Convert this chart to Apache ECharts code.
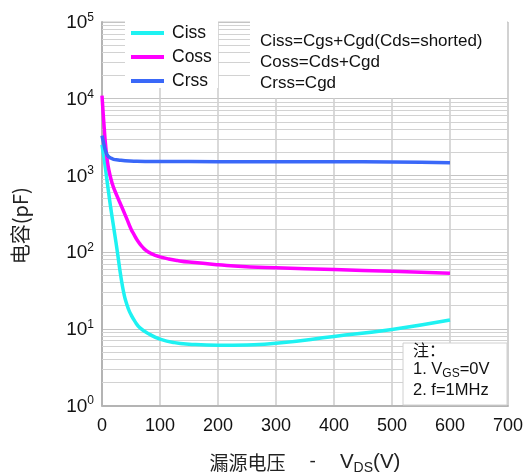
<!DOCTYPE html>
<html><head><meta charset="utf-8">
<script src="https://cdn.jsdelivr.net/npm/echarts@6/dist/echarts.min.js"></script>
<style>html,body{margin:0;padding:0;background:#fff}#c{width:525px;height:475px}</style>
</head><body><div id="c"></div>
<script>
// Ciss (cyan)
const cissV = [0, 2, 4, 8, 11.4, 15, 20, 24, 27, 31.5, 35, 38, 41, 45, 49, 57, 66, 83, 100, 125, 150, 200, 250, 300, 400, 500, 600];
const cissC = [2512, 1995, 1585, 933, 596, 380, 214, 135, 94.4, 53.7, 36.9, 28.3, 23.0, 18.6, 15.8, 12.4, 10.2, 8.4, 7.35, 6.6, 6.3, 6.1, 6.17, 6.46, 7.94, 9.8, 13.0];
// Coss (magenta)
const cossV = [0, 2, 4, 6, 9, 12, 16, 20, 23, 30, 36, 43, 50, 55, 60, 65, 70, 77, 85, 92, 100, 115, 130, 150, 200, 256, 300, 400, 500, 600];
const cossC = [10965, 6457, 3981, 2570, 1585, 1161, 865, 693, 608, 457, 359, 269, 200, 170, 146, 129, 116, 103.5, 95.5, 90.6, 86.5, 81.3, 77.6, 74.1, 68.4, 63.8, 62.4, 59.2, 56.2, 53];
// Crss (blue)
const crssV = [0, 3, 6, 10, 14, 20, 28, 40, 60, 100, 200, 300, 400, 500, 600];
const crssC = [3300, 2600, 2100, 1800, 1700, 1620, 1590, 1550, 1530, 1520, 1510, 1510, 1510, 1500, 1460];

const seriesNames = ['Ciss', 'Coss', 'Crss'];
const seriesColors = ['#1EF2F2', '#FF00FF', '#3A68F8'];
const formulaLines = ['Ciss=Cgs+Cgd(Cds=shorted)', 'Coss=Cds+Cgd', 'Crss=Cgd'];

const zip = (a, b) => a.map((v, i) => [v, b[i]]);
const minorVals = [];
for (let d = 0; d < 5; d++) for (let k = 2; k <= 9; k++) minorVals.push(k * Math.pow(10, d));

const chart = echarts.init(document.getElementById('c'), null, {renderer: 'canvas'});
const font = '"Liberation Sans", Arial, sans-serif';
const cjk = '"Noto Sans CJK SC", sans-serif';

const mkSeries = (i, v, c) => ({
  name: seriesNames[i], type: 'line', data: zip(v, c), smooth: 0.5,
  showSymbol: false, symbol: 'none', z: 2,
  lineStyle: {color: seriesColors[i], width: 3.5}, itemStyle: {color: seriesColors[i]}
});

const s0 = mkSeries(0, cissV, cissC);
s0.markLine = {
  silent: true, symbol: ['none', 'none'], z: 1, animation: false,
  label: {show: false},
  lineStyle: {color: '#d2d2d2', type: 'solid', width: 1},
  data: minorVals.map(v => ({yAxis: v}))
};

chart.setOption({
  animation: false,
  backgroundColor: '#fff',
  grid: {left: 102, right: 17, top: 22, bottom: 69.5, show: true, borderColor: '#c8c8c8', borderWidth: 1,
         containLabel: false, outerBoundsMode: 'none'},
  xAxis: {
    type: 'value', min: 0, max: 700, interval: 100,
    name: '{m|漏源电压}{g|-}{v|V}{s|DS}{v|(V)}', nameLocation: 'middle', nameGap: 46,
    nameTextStyle: {rich: {
      m: {fontFamily: cjk, fontSize: 19, color: '#222', verticalAlign: 'bottom', padding: [0, 0, 3, 0]},
      g: {fontFamily: font, fontSize: 19, color: '#222', verticalAlign: 'bottom', padding: [0, 24, 4, 24]},
      v: {fontFamily: font, fontSize: 20.5, color: '#222', verticalAlign: 'bottom', padding: [0, 0, 3, 0]},
      s: {fontFamily: font, fontSize: 14, color: '#222', verticalAlign: 'bottom'}
    }},
    axisLine: {show: true, lineStyle: {color: '#b4b4b4', width: 2}},
    axisTick: {show: false},
    axisLabel: {fontFamily: font, fontSize: 18, color: '#111', margin: 12},
    splitLine: {show: true, lineStyle: {color: '#cccccc', width: 1.5}}
  },
  yAxis: {
    type: 'log', logBase: 10, min: 1, max: 100000,
    name: '电容(pF)', nameLocation: 'middle', nameGap: 72,
    nameTextStyle: {fontFamily: cjk, fontSize: 20, color: '#222', padding: [0, 24, 0, 0]},
    axisLine: {show: true, lineStyle: {color: '#b4b4b4', width: 2}},
    axisTick: {show: false},
    axisLabel: {
      margin: 8,
      formatter: v => '{a|10}{b|' + Math.round(Math.log10(v)) + '}',
      rich: {
        a: {fontFamily: font, fontSize: 19, color: '#111', verticalAlign: 'bottom'},
        b: {fontFamily: font, fontSize: 12, color: '#111', verticalAlign: 'bottom', padding: [0, 0, 9, 0]}
      }
    },
    splitLine: {show: true, lineStyle: {color: '#c4c4c4', width: 1}}
  },
  legend: {
    data: seriesNames, orient: 'vertical', left: 126, top: 19,
    icon: 'rect', itemWidth: 33, itemHeight: 4, itemGap: 6,
    textStyle: {fontFamily: font, fontSize: 17.5, color: '#111', padding: [0, 0, 0, 3]},
    z: 5
  },
  graphic: [
    {type: 'rect', z: 3, shape: {x: 125, y: 21, width: 93, height: 67}, style: {fill: '#fff'}},
    {type: 'rect', z: 3, shape: {x: 250, y: 21, width: 257, height: 77}, style: {fill: '#fff'}},
    {type: 'text', z: 4, left: 260, top: 31, style: {
      text: formulaLines.join('\n'), fontFamily: font, fontSize: 17, lineHeight: 21, fill: '#111'}},
    {type: 'rect', z: 3, shape: {x: 403, y: 343, width: 104, height: 62}, style: {fill: '#fff', stroke: '#d0d0d0', lineWidth: 1}},
    {type: 'text', z: 4, left: 413, top: 342, style: {
      text: '{c|注：}\n{m|1. V}{s|GS}{m|=0V}\n{m|2. f=1MHz}',
      rich: {
        c: {fontFamily: cjk, fontSize: 16, fill: '#111', lineHeight: 21.5, verticalAlign: 'bottom'},
        m: {fontFamily: font, fontSize: 16.5, fill: '#111', lineHeight: 21.5, verticalAlign: 'bottom', padding: [0, 0, 2, 0]},
        s: {fontFamily: font, fontSize: 12, fill: '#111', lineHeight: 21.5, verticalAlign: 'bottom'}
      }}}
  ],
  series: [s0, mkSeries(1, cossV, cossC), mkSeries(2, crssV, crssC)]
});
</script></body></html>
